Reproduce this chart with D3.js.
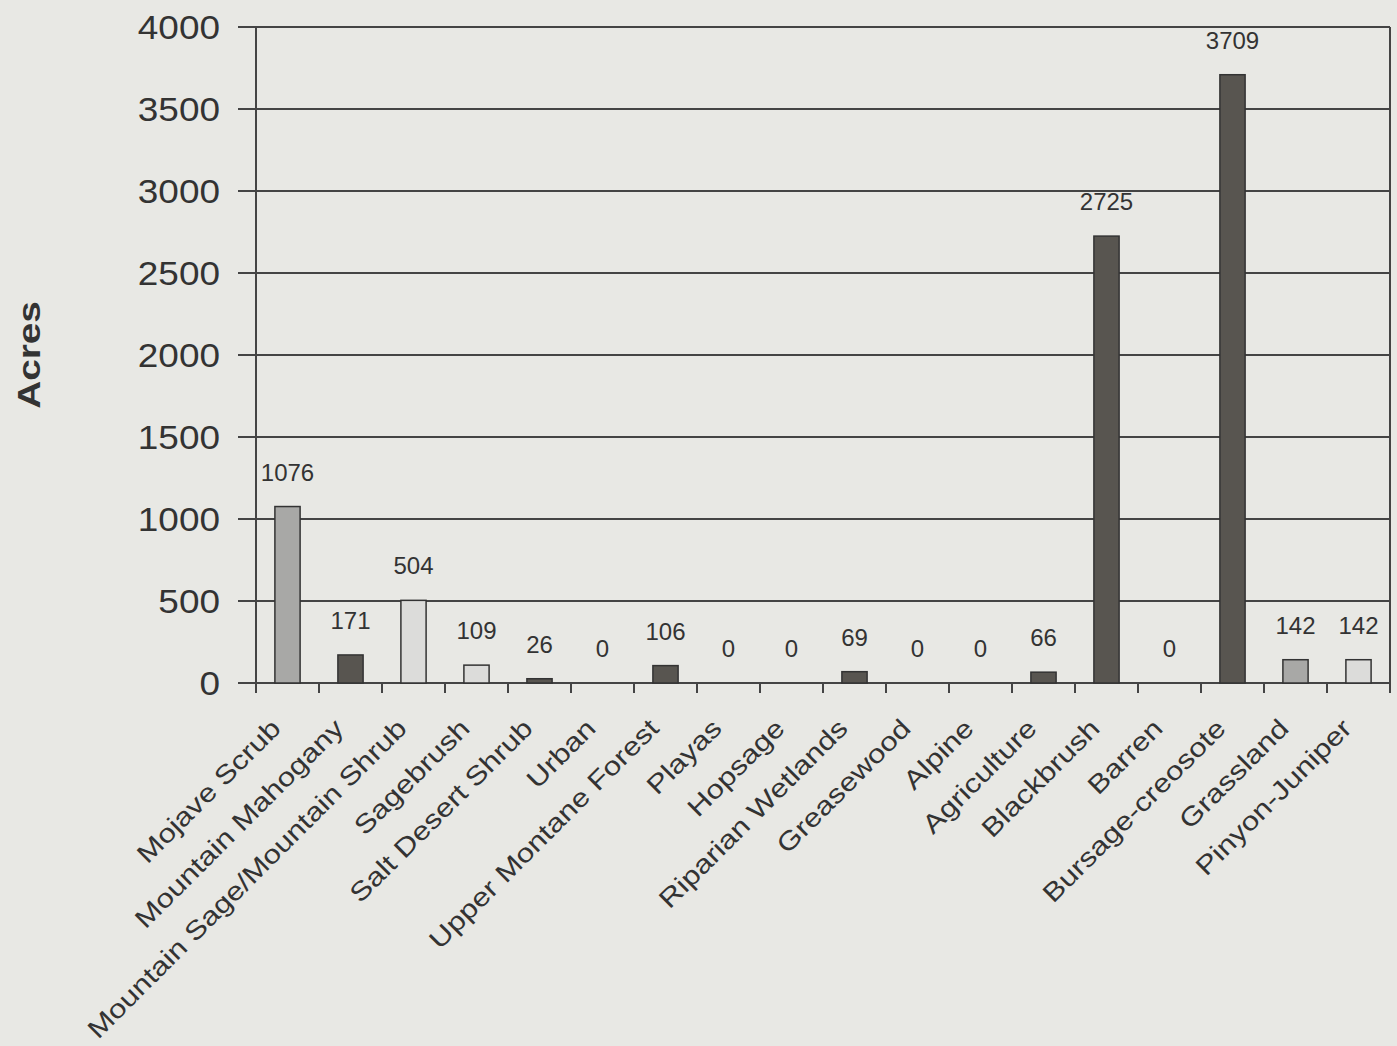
<!DOCTYPE html>
<html>
<head>
<meta charset="utf-8">
<script src="https://cdn.jsdelivr.net/npm/d3@7"></script>
<style>
  body { margin: 0; background: #e8e8e4; }
  svg { display: block; }
  text { font-family: Arial, "Liberation Sans", sans-serif; fill: #333; }
</style>
</head>
<body>
<div class="chart"></div>
<script>
const categories = ["Mojave Scrub", "Mountain Mahogany", "Mountain Sage/Mountain Shrub", "Sagebrush",
  "Salt Desert Shrub", "Urban", "Upper Montane Forest", "Playas", "Hopsage", "Riparian Wetlands",
  "Greasewood", "Alpine", "Agriculture", "Blackbrush", "Barren", "Bursage-creosote", "Grassland", "Pinyon-Juniper"];
const acres = [1076, 171, 504, 109, 26, 0, 106, 0, 0, 69, 0, 0, 66, 2725, 0, 3709, 142, 142];
const shade = ["mid", "dark", "light", "light", "dark", "dark", "dark", "dark", "dark", "dark",
  "dark", "dark", "dark", "dark", "dark", "dark", "mid", "light"];
const yTicks = [0, 500, 1000, 1500, 2000, 2500, 3000, 3500, 4000];

const totalWidth = 1397, totalHeight = 1046;
const margin = {top: 27, right: 7, bottom: 363, left: 256};

const fills = {dark: "#585550", mid: "#a8a8a6", light: "#dcdcda"};

const svg = d3.select('.chart').append('svg')
  .attr('width', totalWidth).attr('height', totalHeight);

const x = d3.scaleBand()
  .domain(categories)
  .range([margin.left, totalWidth - margin.right])
  .paddingInner(0.6).paddingOuter(0.3);

const xTick = d3.scaleBand().domain(categories)
  .range([margin.left, totalWidth - margin.right]);

const y = d3.scaleLinear()
  .domain([0, 4000])
  .range([totalHeight - margin.bottom, margin.top]);

// gridlines
svg.append('g')
  .selectAll('line')
  .data(yTicks)
  .join('line')
    .attr('x1', margin.left - 18)
    .attr('x2', totalWidth - margin.right)
    .attr('y1', d => y(d)).attr('y2', d => y(d))
    .attr('stroke', '#444').attr('stroke-width', 2);

// right border
svg.append('line')
  .attr('x1', totalWidth - margin.right).attr('x2', totalWidth - margin.right)
  .attr('y1', y(4000)).attr('y2', y(0) + 10)
  .attr('stroke', '#444').attr('stroke-width', 2);

// left axis line
svg.append('line')
  .attr('x1', margin.left).attr('x2', margin.left)
  .attr('y1', y(4000)).attr('y2', y(0) + 10)
  .attr('stroke', '#444').attr('stroke-width', 2);

// x ticks
svg.append('g')
  .selectAll('line')
  .data(categories.slice(1))
  .join('line')
    .attr('x1', d => xTick(d)).attr('x2', d => xTick(d))
    .attr('y1', y(0)).attr('y2', y(0) + 10)
    .attr('stroke', '#444').attr('stroke-width', 2);

// y tick labels (scan is slightly stretched horizontally)
svg.append('g')
  .selectAll('text')
  .data(yTicks)
  .join('text')
    .attr('transform', d => `translate(${margin.left - 36},${y(d)}) scale(1.12,1)`)
    .attr('dy', '0.35em')
    .attr('text-anchor', 'end')
    .attr('font-size', '33px')
    .text(d => d);

// bars
svg.append('g')
  .selectAll('rect')
  .data(categories)
  .join('rect')
    .attr('x', d => x(d))
    .attr('width', x.bandwidth())
    .attr('y', (d, i) => y(acres[i]))
    .attr('height', (d, i) => y(0) - y(acres[i]))
    .attr('fill', (d, i) => fills[shade[i]])
    .attr('stroke', '#333').attr('stroke-width', 1.5);

// value labels
svg.append('g')
  .selectAll('text')
  .data(categories)
  .join('text')
    .attr('x', d => x(d) + x.bandwidth() / 2)
    .attr('y', (d, i) => y(acres[i]) - 26)
    .attr('text-anchor', 'middle')
    .attr('font-size', '24px')
    .text((d, i) => acres[i]);

// category labels
svg.append('g')
  .selectAll('text')
  .data(categories)
  .join('text')
    .attr('text-anchor', 'end')
    .attr('font-size', '26px')
    .attr('transform', d => `translate(${x(d) + x.bandwidth() / 2 - 18},${y(0) + 34}) rotate(-45) scale(1.2,1)`)
    .attr('dy', '0.7em')
    .text(d => d);

// y axis title
svg.append('text')
  .attr('transform', `translate(40,${(y(0) + y(4000)) / 2}) rotate(-90) scale(1.25,1)`)
  .attr('text-anchor', 'middle')
  .attr('font-size', '31px')
  .attr('font-weight', 'bold')
  .text('Acres');
</script>
</body>
</html>
